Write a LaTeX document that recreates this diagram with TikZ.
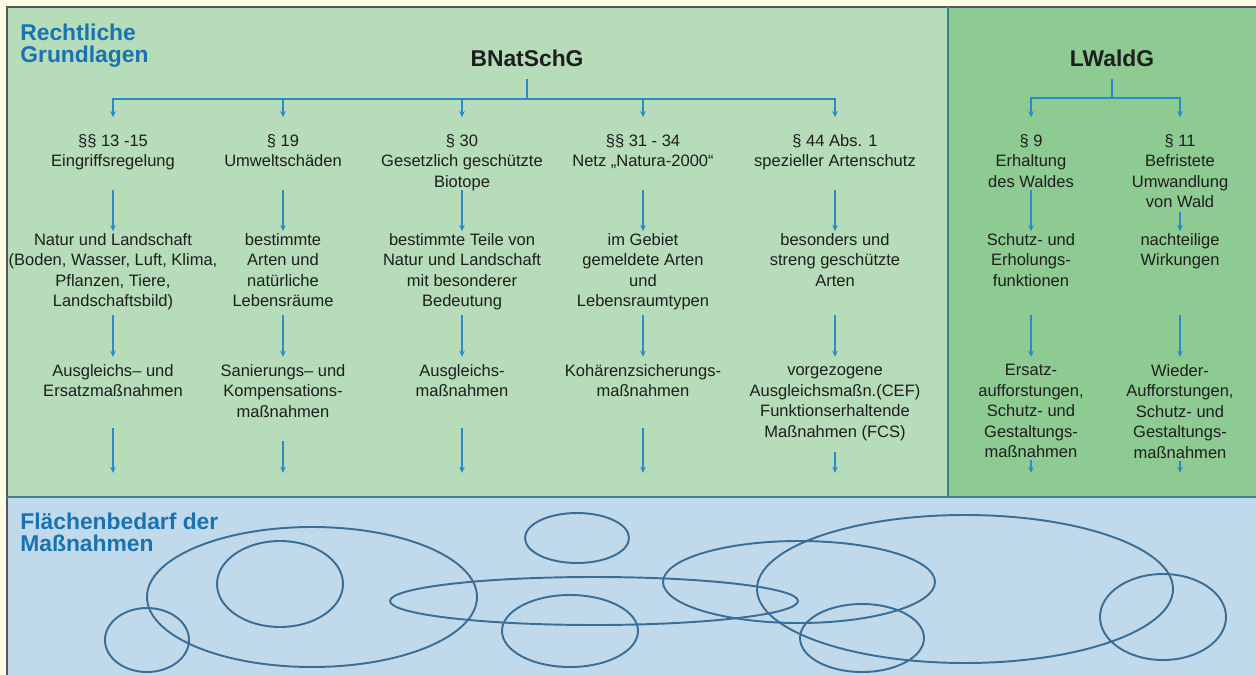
\documentclass[tikz,border=0pt]{standalone}
\usepackage{fontspec}
\setmainfont{Liberation Sans}
\usetikzlibrary{arrows.meta}

\definecolor{paper}{HTML}{FFFCE6}
\definecolor{frameline}{HTML}{55585A}
\definecolor{greenlight}{HTML}{B6DCB9}
\definecolor{greendark}{HTML}{8ECB92}
\definecolor{bluepanel}{HTML}{C0DAEC}
\definecolor{divider}{HTML}{3F7F8F}
\definecolor{linkblue}{HTML}{2B8BC8}
\definecolor{areablue}{HTML}{3A6E96}
\definecolor{titleblue}{HTML}{1A73B0}
\definecolor{ink}{HTML}{1E1E1E}

\begin{document}
\begin{tikzpicture}[
    x=0.02cm, y=-0.02cm,
    >={Stealth[length=3.6pt, width=3.2pt]},
    every node/.style={inner sep=0pt, text=ink},
    law/.style={font=\fontsize{13}{13}\selectfont\bfseries, anchor=base},
    title/.style={font=\fontsize{13}{12.2}\selectfont\bfseries, text=titleblue, align=left, anchor=north west},
    item/.style={font=\fontsize{9.4}{11.7}\selectfont, align=center, anchor=north},
    tree/.style={draw=linkblue, line width=0.9pt},
    link/.style={->, draw=linkblue, line width=0.9pt},
    area/.style={draw=areablue, line width=1.1pt}
]

% -------------------------
% PANELS
% -------------------------
\useasboundingbox (0,0) rectangle (1256,675);
\fill[paper] (0,0) rectangle (1256,675);
\fill[greenlight] (7,7) rectangle (948,497);
\fill[greendark] (948,7) rectangle (1256,497);
\fill[bluepanel] (7,497) rectangle (1256,675);
\draw[frameline, line width=1pt] (7,675) -- (7,7) -- (1256,7);
\draw[divider, line width=1.1pt] (948,7) -- (948,497);
\draw[divider, line width=1.1pt] (7,497) -- (1256,497);

\node[title] (LegalBase) at (20,24) {Rechtliche\\Grundlagen};
\node[title] (AreaNeed) at (20,513) {Flächenbedarf der\\Maßnahmen};

% -------------------------
% LAWS
% -------------------------
\node[law] (BNat) at (527,67) {BNatSchG};
\node[law] (LWald) at (1112,67) {LWaldG};
\coordinate (BNatHub) at (527,99);
\coordinate (LWaldHub) at (1112,98);

% row levels of the arrows
\coordinate (RowB) at (0,190);
\coordinate (RowC) at (0,315);
\coordinate (RowD) at (0,428);
\coordinate (RowE) at (0,473);

% -------------------------
% PARAGRAPHS
% -------------------------
\node[item] (Par13) at (113,134) {§§ 13 -15\\Eingriffsregelung};
\node[item] (Par19) at (283,134) {§ 19\\Umweltschäden};
\node[item] (Par30) at (462,134) {§ 30\\Gesetzlich geschützte\\Biotope};
\node[item] (Par31) at (643,134) {§§ 31 - 34\\Netz „Natura-2000“};
\node[item] (Par44) at (835,134) {§ 44 Abs. 1\\spezieller Artenschutz};
\node[item] (Par9) at (1031,134) {§ 9\\Erhaltung\\des Waldes};
\node[item] (Par11) at (1180,134) {§ 11\\Befristete\\Umwandlung\\von Wald};

% -------------------------
% PROTECTED GOODS
% -------------------------
\node[item] (Nat13) at (113,233) {Natur und Landschaft\\(Boden, Wasser, Luft, Klima,\\Pflanzen, Tiere,\\Landschaftsbild)};
\node[item] (Nat19) at (283,233) {bestimmte\\Arten und\\natürliche\\Lebensräume};
\node[item] (Nat30) at (462,233) {bestimmte Teile von\\Natur und Landschaft\\mit besonderer\\Bedeutung};
\node[item] (Nat31) at (643,233) {im Gebiet\\gemeldete Arten\\und\\Lebensraumtypen};
\node[item] (Nat44) at (835,233) {besonders und\\streng geschützte\\Arten};
\node[item] (Nat9) at (1031,233) {Schutz- und\\Erholungs-\\funktionen};
\node[item] (Nat11) at (1180,233) {nachteilige\\Wirkungen};

% -------------------------
% MEASURES
% -------------------------
\node[item] (Mass13) at (113,364) {Ausgleichs– und\\Ersatzmaßnahmen};
\node[item] (Mass19) at (283,364) {Sanierungs– und\\Kompensations-\\maßnahmen};
\node[item] (Mass30) at (462,364) {Ausgleichs-\\maßnahmen};
\node[item] (Mass31) at (643,364) {Kohärenzsicherungs-\\maßnahmen};
\node[item] (Mass44) at (835,364) {\vphantom{A}vorgezogene\\Ausgleichsmaßn.(CEF)\\Funktionserhaltende\\Maßnahmen (FCS)};
\node[item] (Mass9) at (1031,364) {Ersatz-\\aufforstungen,\\Schutz- und\\Gestaltungs-\\maßnahmen};
\node[item] (Mass11) at (1180,364) {Wieder-\\Aufforstungen,\\Schutz- und\\Gestaltungs-\\maßnahmen};

% -------------------------
% BRANCHES
% -------------------------
\draw[tree] (BNat.south) ++(0,11) -- (BNatHub);
\draw[tree] (LWald.south) ++(0,11) -- (LWaldHub);
\draw[link, shorten >=9.5pt] (BNatHub) -| (Par13.north);
\draw[link, shorten >=9.5pt] (BNatHub) -| (Par19.north);
\draw[link, shorten >=9.5pt] (BNatHub) -| (Par30.north);
\draw[link, shorten >=9.5pt] (BNatHub) -| (Par31.north);
\draw[link, shorten >=9.5pt] (BNatHub) -| (Par44.north);
\draw[link, shorten >=9.5pt] (LWaldHub) -| (Par9.north);
\draw[link, shorten >=9.5pt] (LWaldHub) -| (Par11.north);

% Paragraph to protected goods
\draw[link, shorten >=1pt] (Par13 |- RowB) -- (Nat13.north);
\draw[link, shorten >=1pt] (Par19 |- RowB) -- (Nat19.north);
\draw[link, shorten >=1pt] (Par30 |- RowB) -- (Nat30.north);
\draw[link, shorten >=1pt] (Par31 |- RowB) -- (Nat31.north);
\draw[link, shorten >=1pt] (Par44 |- RowB) -- (Nat44.north);
\draw[link, shorten >=1pt] (Par9 |- RowB) -- (Nat9.north);
\draw[link, shorten >=1pt] (Par11.south) ++(0,4) -- (Nat11.north);

% Protected goods to measures
\draw[link, shorten >=4pt] (Nat13 |- RowC) -- (Mass13.north);
\draw[link, shorten >=4pt] (Nat19 |- RowC) -- (Mass19.north);
\draw[link, shorten >=4pt] (Nat30 |- RowC) -- (Mass30.north);
\draw[link, shorten >=4pt] (Nat31 |- RowC) -- (Mass31.north);
\draw[link, shorten >=4pt] (Nat44 |- RowC) -- (Mass44.north);
\draw[link, shorten >=4pt] (Nat9 |- RowC) -- (Mass9.north);
\draw[link, shorten >=4pt] (Nat11 |- RowC) -- (Mass11.north);

% Measures down to the area panel
\draw[link] (Mass13 |- RowD) -- (Mass13 |- RowE);
\draw[link] (Mass19.south) ++(0,23) -- (Mass19 |- RowE);
\draw[link] (Mass30 |- RowD) -- (Mass30 |- RowE);
\draw[link] (Mass31 |- RowD) -- (Mass31 |- RowE);
\draw[link] (Mass44.south) ++(0,11) -- (Mass44 |- RowE);
\draw[link] (Mass9.south) ++(0,2) -- (Mass9 |- RowE);
\draw[link] (Mass11.south) ++(0,2) -- (Mass11 |- RowE);

% -------------------------
% AREAS
% -------------------------
\draw[area] (147,640) ellipse [x radius=42, y radius=32];
\draw[area] (312,597) ellipse [x radius=165, y radius=70];
\draw[area] (280,584) ellipse [x radius=63, y radius=43];
\draw[area] (577,538) ellipse [x radius=52, y radius=25];
\draw[area] (594,601) ellipse [x radius=204, y radius=24];
\draw[area] (570,631) ellipse [x radius=68, y radius=36];
\draw[area] (799,582) ellipse [x radius=136, y radius=41];
\draw[area] (965,589) ellipse [x radius=208, y radius=74];
\draw[area] (862,638) ellipse [x radius=62, y radius=34];
\draw[area] (1163,617) ellipse [x radius=63, y radius=43];

\end{tikzpicture}
\end{document}
